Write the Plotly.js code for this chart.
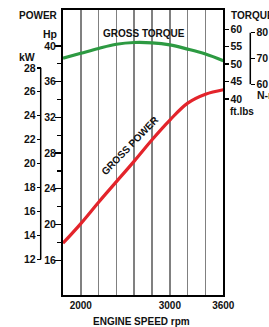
<!DOCTYPE html>
<html>
<head>
<meta charset="utf-8">
<script src="https://cdn.plot.ly/plotly-3.0.1.min.js"></script>
<style>html,body{margin:0;padding:0;background:#fff;}#chart{width:269px;height:327px;}</style>
</head>
<body>
<div id="chart"></div>
<script>
// ---- data ----
const rpm = [1800, 2000, 2200, 2400, 2600, 2800, 3000, 3200, 3400, 3600];
const grossPowerHp = [17.9, 20.1, 22.5, 24.8, 27.1, 29.5, 31.7, 33.6, 34.6, 35.1];
const grossTorqueFtLb = [51.7, 53.1, 54.5, 55.7, 56.2, 56.1, 55.5, 54.3, 52.9, 51.0];

const xGridVals = [1800, 2000, 2200, 2400, 2600, 2800, 3000, 3200, 3400, 3600];
const xTickText = ['', '2000', '', '', '', '', '3000', '', '', '3600'];
const hpTicks = [16, 20, 24, 28, 32, 36, 40];
const hpMinorTicks = [18, 22, 26, 30, 34, 38];
const hpDarkGrid = [20, 24, 28, 32, 40];
const hpLightGrid = [16, 36];
const torqueTicks = [40, 45, 50, 55, 60];
const kwTicks = [12, 14, 16, 18, 20, 22, 24, 26, 28];
const nmTicks = [60, 70, 80];

// unit conversions
const HP_TO_KW = 0.7457;
const FTLB_TO_NM = 1.35582;

const hpRange = [12.1, 44.03];
const tqRange = [-16.25, 65.53];

const W = 269, H = 327;
const M = {l: 10, r: 10, t: 10, b: 32};
const px = x => (x - M.l) / (W - M.l - M.r);
const py = y => (H - M.b - y) / (H - M.t - M.b);

const FONT = '"Liberation Sans", Arial, Helvetica, sans-serif';
const f = (size) => ({family: FONT, size: size, color: '#111', weight: 'bold'});

const traces = [
  {x: rpm, y: grossPowerHp, type: 'scatter', mode: 'lines', yaxis: 'y',
   line: {color: '#e3242b', width: 3.2, shape: 'spline'}, hoverinfo: 'skip'},
  {x: rpm, y: grossTorqueFtLb, type: 'scatter', mode: 'lines', yaxis: 'y2',
   line: {color: '#2d9a42', width: 3.2, shape: 'spline'}, hoverinfo: 'skip'}
];

function ann(text, x, y, size, xanchor, extra) {
  return Object.assign({text: text, xref: 'paper', yref: 'paper', x: px(x), y: py(y),
    xanchor: xanchor || 'center', yanchor: 'middle', showarrow: false, font: f(size),
    borderpad: 0}, extra || {});
}

const layout = {
  width: W, height: H, margin: M, showlegend: false,
  paper_bgcolor: '#fff', plot_bgcolor: '#fff',
  font: f(10),
  xaxis: {
    domain: [px(63), px(223.3)], range: [1800, 3600],
    tickmode: 'array', tickvals: xGridVals, ticktext: xTickText,
    ticks: '', showgrid: true, gridcolor: '#808080', gridwidth: 1.5,
    showline: true, linecolor: '#000', linewidth: 2, mirror: true,
    zeroline: false, tickfont: f(10), fixedrange: true
  },
  yaxis: {
    range: hpRange, tickmode: 'array', tickvals: hpTicks,
    ticks: 'outside', ticklen: 6, tickwidth: 1.3, tickcolor: '#000',
    minor: {tickmode: 'array', tickvals: hpMinorTicks, ticks: 'outside', ticklen: 4, tickwidth: 1.3, tickcolor: '#000', showgrid: false},
    showgrid: false, showline: true, linecolor: '#000', linewidth: 2,
    zeroline: false, tickfont: f(10.5), ticklabelstandoff: -3, fixedrange: true
  },
  yaxis2: {
    overlaying: 'y', side: 'right', anchor: 'x', range: tqRange,
    tickmode: 'array', tickvals: torqueTicks,
    ticks: 'outside', ticklen: 4, tickwidth: 1.3, tickcolor: '#000',
    showgrid: false, showline: true, linecolor: '#000', linewidth: 2,
    zeroline: false, tickfont: f(10.5), ticklabelstandoff: -1, fixedrange: true
  },
  yaxis3: {
    overlaying: 'y', side: 'left', anchor: 'free', position: px(40.7),
    range: [hpRange[0] * HP_TO_KW, hpRange[1] * HP_TO_KW],
    tickmode: 'array', tickvals: kwTicks,
    ticks: 'outside', ticklen: 4, tickwidth: 1.3, tickcolor: '#000',
    showgrid: false, showline: false, zeroline: false,
    tickfont: f(10.5), ticklabelstandoff: -1, fixedrange: true
  },
  yaxis4: {
    overlaying: 'y', side: 'right', anchor: 'free', position: px(250.3),
    range: [tqRange[0] * FTLB_TO_NM, tqRange[1] * FTLB_TO_NM],
    tickmode: 'array', tickvals: nmTicks,
    ticks: 'outside', ticklen: 4, tickwidth: 1.3, tickcolor: '#000',
    showgrid: false, showline: false, zeroline: false,
    tickfont: f(10.5), ticklabelstandoff: -1, fixedrange: true
  },
  yaxis5: {
    overlaying: 'y', side: 'left', anchor: 'x', range: hpRange,
    tickmode: 'array', tickvals: hpDarkGrid, showticklabels: false, ticks: '',
    showgrid: true, gridcolor: '#151515', gridwidth: 1.5,
    minor: {tickmode: 'array', tickvals: hpLightGrid, ticks: '', showgrid: true, gridcolor: '#808080', gridwidth: 1.5},
    showline: false, zeroline: false, fixedrange: true
  },
  shapes: [
    {type: 'line', xref: 'paper', yref: 'y3', x0: px(40.7), x1: px(40.7), y0: 12, y1: 28,
     line: {color: '#000', width: 1.5}},
    {type: 'line', xref: 'paper', yref: 'y4', x0: px(250.3), x1: px(250.3), y0: 60, y1: 80,
     line: {color: '#000', width: 1.5}}
  ],
  annotations: [
    ann('POWER', 38.3, 15, 10),
    ann('Hp', 50, 34, 10.5),
    ann('kW', 26.5, 57, 10.5),
    ann('TORQUE', 229.5, 15, 10, 'left'),
    ann('ft.lbs', 229, 111.7, 10, 'left'),
    ann('N-m', 255.5, 95, 10.5, 'left'),
    ann('GROSS TORQUE', 144, 33, 10),
    {text: 'GROSS POWER', xref: 'x', yref: 'y', x: 2550, y: 28.9, textangle: -46,
     xanchor: 'center', yanchor: 'middle', showarrow: false, font: f(10)},
    ann('ENGINE SPEED rpm', 141.7, 321, 10)
  ]
};

Plotly.newPlot('chart', traces, layout, {displayModeBar: false, staticPlot: true});
</script>
</body>
</html>
